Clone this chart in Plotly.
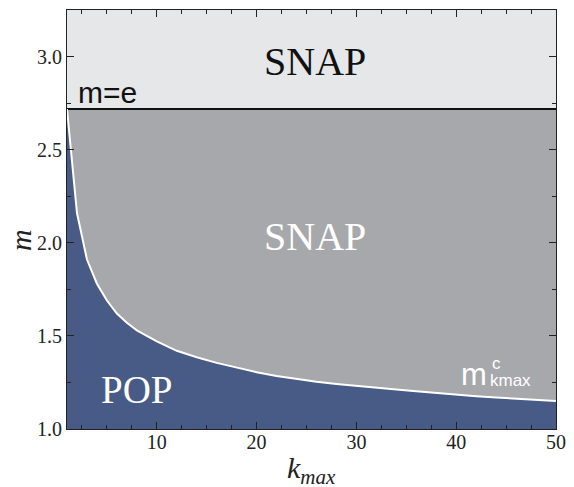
import plotly.graph_objects as go

# Data
E_LINE = 2.718  # m = e boundary
k_max = [1, 2, 3, 4, 5, 6, 7, 8, 9, 10, 12, 14, 16, 18, 20, 22, 24, 26, 28, 30,
         32, 34, 36, 38, 40, 42, 44, 46, 48, 50]
m_c = [2.718, 2.16, 1.91, 1.78, 1.69, 1.62, 1.57, 1.53, 1.50, 1.47, 1.42, 1.385,
       1.355, 1.33, 1.305, 1.285, 1.268, 1.254, 1.242, 1.231, 1.221, 1.212, 1.203,
       1.193, 1.184, 1.176, 1.169, 1.162, 1.156, 1.15]
x_range = [1, 50]
y_range = [1, 3.25]
x_ticks = [10, 20, 30, 40, 50]
y_ticks = [1.0, 1.5, 2.0, 2.5, 3.0]

LIGHT = "#e6e7e9"
MID = "#a7a8ab"
BLUE = "#475b86"
SERIF = "Liberation Serif"
SANS = "Liberation Sans"

fig = go.Figure()
# middle grey region under m=e
fig.add_trace(go.Scatter(x=x_range, y=[E_LINE, E_LINE], mode="lines",
                         line=dict(color="#111111", width=2),
                         fill="tozeroy", fillcolor=MID, hoverinfo="skip",
                         showlegend=False))
# POP region under critical curve
fig.add_trace(go.Scatter(x=k_max, y=m_c, mode="lines",
                         line=dict(color="white", width=2),
                         fill="tozeroy", fillcolor=BLUE, hoverinfo="skip",
                         showlegend=False))

ann = []
ann.append(dict(x=25.85, y=2.975, text="SNAP", font=dict(family=SERIF, size=40, color="#111111")))
ann.append(dict(x=25.85, y=2.035, text="SNAP", font=dict(family=SERIF, size=40, color="white")))
ann.append(dict(x=8.0, y=1.213, text="POP", font=dict(family=SERIF, size=39, color="white")))
ann.append(dict(x=1.95, y=2.805, text="m=e", xanchor="left",
                font=dict(family=SANS, size=30, color="#111111")))
ann.append(dict(x=40.3, y=1.293, text="m", xanchor="left",
                font=dict(family=SANS, size=31, color="white")))
ann.append(dict(x=43.4, y=1.35, text="c", xanchor="left",
                font=dict(family=SANS, size=17, color="white")))
ann.append(dict(x=43.2, y=1.263, text="kmax", xanchor="left",
                font=dict(family=SANS, size=17, color="white")))
# axis titles
ann.append(dict(x=0.5, y=-0.098, xref="paper", yref="paper", text="<i>k</i><sub><i>max</i></sub>",
                xanchor="center", yanchor="middle",
                font=dict(family=SERIF, size=30, color="#222222")))
ann.append(dict(x=-0.096, y=0.451, xref="paper", yref="paper", text="<i>m</i>", textangle=-90,
                xanchor="center", yanchor="middle",
                font=dict(family=SERIF, size=30, color="#222222")))
for a in ann:
    a.setdefault("xref", "x")
    a.setdefault("yref", "y")
    a["showarrow"] = False
fig.update_layout(annotations=ann)

axis_common = dict(showline=True, linecolor="#222222", linewidth=1.2, mirror="ticks",
                   ticks="inside", ticklen=7, tickcolor="#222222", tickwidth=1,
                   showgrid=False, zeroline=False, automargin=False,
                   tickfont=dict(family=SERIF, size=20, color="#222222"))
fig.update_xaxes(range=x_range, tickvals=x_ticks, ticktext=[str(v) for v in x_ticks],
                 ticklabelstandoff=-5,
                 minor=dict(dtick=2.5, tick0=0, ticks="inside", ticklen=4,
                            tickcolor="#222222", showgrid=False),
                 **axis_common)
fig.update_yaxes(range=y_range, tickvals=y_ticks, ticktext=[f"{v:.1f}" for v in y_ticks],
                 minor=dict(dtick=0.25, tick0=0, ticks="inside", ticklen=4,
                            tickcolor="#222222", showgrid=False),
                 **axis_common)
# page body adds an 8px offset; size the figure to the visible window
fig.update_layout(width=566, height=479, margin=dict(l=59, r=18, t=2, b=58),
                  paper_bgcolor="white", plot_bgcolor=LIGHT)
fig.write_html("out.html")
